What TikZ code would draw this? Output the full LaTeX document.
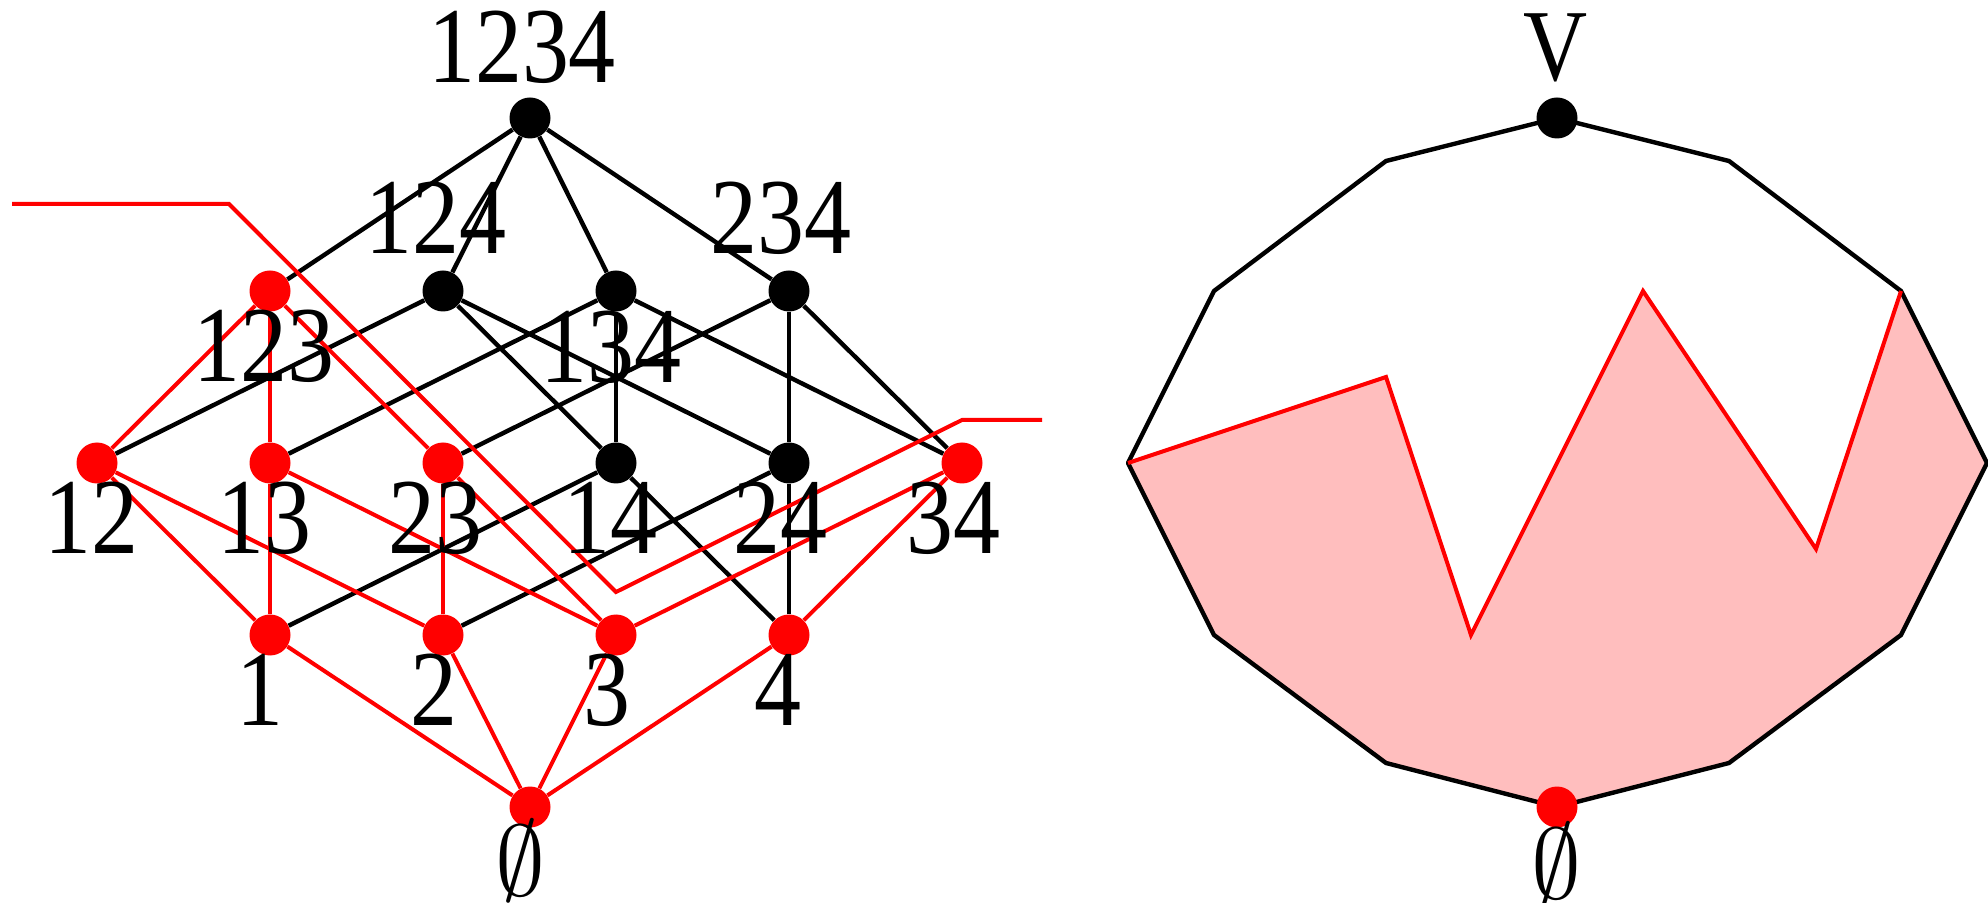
\documentclass[tikz,border=0pt]{standalone}
\usepackage{graphicx}
\usepackage{fontspec}
\setmainfont{Liberation Serif}
\newfontfamily\labfont[FakeStretch=0.87]{Liberation Serif}
\usetikzlibrary{calc}
\definecolor{pinkfill}{RGB}{255,190,190}
\tikzset{
  dotb/.style={circle,fill=black,inner sep=0pt,minimum size=20.5pt},
  dotr/.style={dotb,fill=red},
  eb/.style={draw=black,line width=2.2pt},
  er/.style={draw=red,line width=2pt},
  lab/.style={inner sep=0pt,font=\labfont\fontsize{54}{60}\selectfont},
  labv/.style={inner sep=0pt,font=\labfont\fontsize{51}{60}\selectfont},
  labe/.style={inner sep=0pt,font=\fontsize{24.88}{30}\selectfont},
}
\newcommand{\bigempty}{\scalebox{2.01}{$\emptyset$}}
\begin{document}
\begin{tikzpicture}[x=0.5pt,y=-0.5pt]
\useasboundingbox (0,0) rectangle (1988,903);
% ---- lattice nodes
\node[dotr] (e)   at (530,807) {};
\node[dotr] (n1)  at (270,635) {};
\node[dotr] (n2)  at (443,635) {};
\node[dotr] (n3)  at (616,635) {};
\node[dotr] (n4)  at (789,635) {};
\node[dotr] (n12) at (97,463) {};
\node[dotr] (n13) at (270,463) {};
\node[dotr] (n23) at (443,463) {};
\node[dotb] (n14) at (616,463) {};
\node[dotb] (n24) at (789,463) {};
\node[dotr] (n34) at (962,463) {};
\node[dotr] (n123) at (270,291) {};
\node[dotb] (n124) at (443,291) {};
\node[dotb] (n134) at (616,291) {};
\node[dotb] (n234) at (789,291) {};
\node[dotb] (n1234) at (530,118) {};
% ---- black edges
\draw[eb] (n1) -- (n14);
\draw[eb] (n2) -- (n24);
\draw[eb] (n4) -- (n14);
\draw[eb] (n4) -- (n24);
\draw[eb] (n12) -- (n124);
\draw[eb] (n13) -- (n134);
\draw[eb] (n14) -- (n124);
\draw[eb] (n14) -- (n134);
\draw[eb] (n23) -- (n234);
\draw[eb] (n24) -- (n124);
\draw[eb] (n24) -- (n234);
\draw[eb] (n34) -- (n134);
\draw[eb] (n34) -- (n234);
\draw[eb] (n123) -- (n1234);
\draw[eb] (n124) -- (n1234);
\draw[eb] (n134) -- (n1234);
\draw[eb] (n234) -- (n1234);
% ---- red edges
\draw[er] (e) -- (n1);
\draw[er] (e) -- (n2);
\draw[er] (e) -- (n3);
\draw[er] (e) -- (n4);
\draw[er] (n1) -- (n12);
\draw[er] (n1) -- (n13);
\draw[er] (n2) -- (n12);
\draw[er] (n2) -- (n23);
\draw[er] (n3) -- (n13);
\draw[er] (n3) -- (n23);
\draw[er] (n3) -- (n34);
\draw[er] (n4) -- (n34);
\draw[er] (n12) -- (n123);
\draw[er] (n13) -- (n123);
\draw[er] (n23) -- (n123);
% ---- separating red line
\coordinate (s1) at (12,204);
\coordinate (s2) at (229,204);
\coordinate (s3) at (616,592);
\coordinate (s4) at (962,420);
\coordinate (s5) at (1042,420);
\draw[er] (s1) -- (s2) -- (s3) -- (s4) -- (s5);
% ---- lattice labels
\node[lab] (l1234) at ($(n1234)+(-8,-71)$) {1234};
\node[lab] (l124) at ($(n124)+(-7,-73)$) {124};
\node[lab] (l234) at ($(n234)+(-8,-73)$) {234};
\node[lab] (l123) at ($(n123)+(-6,55)$) {123};
\node[lab] (l134) at ($(n134)+(-5,56)$) {134};
\node[lab] (l12) at ($(n12)+(-6,55)$) {12};
\node[lab] (l13) at ($(n13)+(-6,55)$) {13};
\node[lab] (l23) at ($(n23)+(-8,55)$) {23};
\node[lab] (l14) at ($(n14)+(-6,55)$) {14};
\node[lab] (l24) at ($(n24)+(-9,55)$) {24};
\node[lab] (l34) at ($(n34)+(-9,55)$) {34};
\node[lab] (l1) at ($(n1)+(-10,55)$) {1};
\node[lab] (l2) at ($(n2)+(-9,55)$) {2};
\node[lab] (l3) at ($(n3)+(-9,55)$) {3};
\node[lab] (l4) at ($(n4)+(-11,55)$) {4};
\node[labe] (le) at (521,861) {\bigempty};
% ---- right polygon
\coordinate (q0) at (1557,118);
\coordinate (q1) at (1729,161);
\coordinate (q2) at (1901,291);
\coordinate (q3) at (1987,463);
\coordinate (q4) at (1901,635);
\coordinate (q5) at (1729,763);
\coordinate (q6) at (1557,807);
\coordinate (q7) at (1386,763);
\coordinate (q8) at (1214,635);
\coordinate (q9) at (1128,463);
\coordinate (q10) at (1214,291);
\coordinate (q11) at (1386,161);
\coordinate (r1) at (1386,377);
\coordinate (r2) at (1471,635);
\coordinate (r3) at (1643,291);
\coordinate (r4) at (1816,549);
\fill[pinkfill] (q9) -- (r1) -- (r2) -- (r3) -- (r4) -- (q2) -- (q3) -- (q4) -- (q5) -- (q6) -- (q7) -- (q8) -- cycle;
\draw[eb,line join=round] (q0) -- (q1) -- (q2) -- (q3) -- (q4) -- (q5) -- (q6) -- (q7) -- (q8) -- (q9) -- (q10) -- (q11) -- cycle;
\draw[er,line join=miter] (q9) -- (r1) -- (r2) -- (r3) -- (r4) -- (q2);
\node[dotb] (vtop) at (q0) {};
\node[dotr] (vbot) at (q6) {};
\node[labv] (lv) at (1556,48) {V};
\node[labe] (le2) at (1556,864) {\bigempty};
\end{tikzpicture}
\end{document}
